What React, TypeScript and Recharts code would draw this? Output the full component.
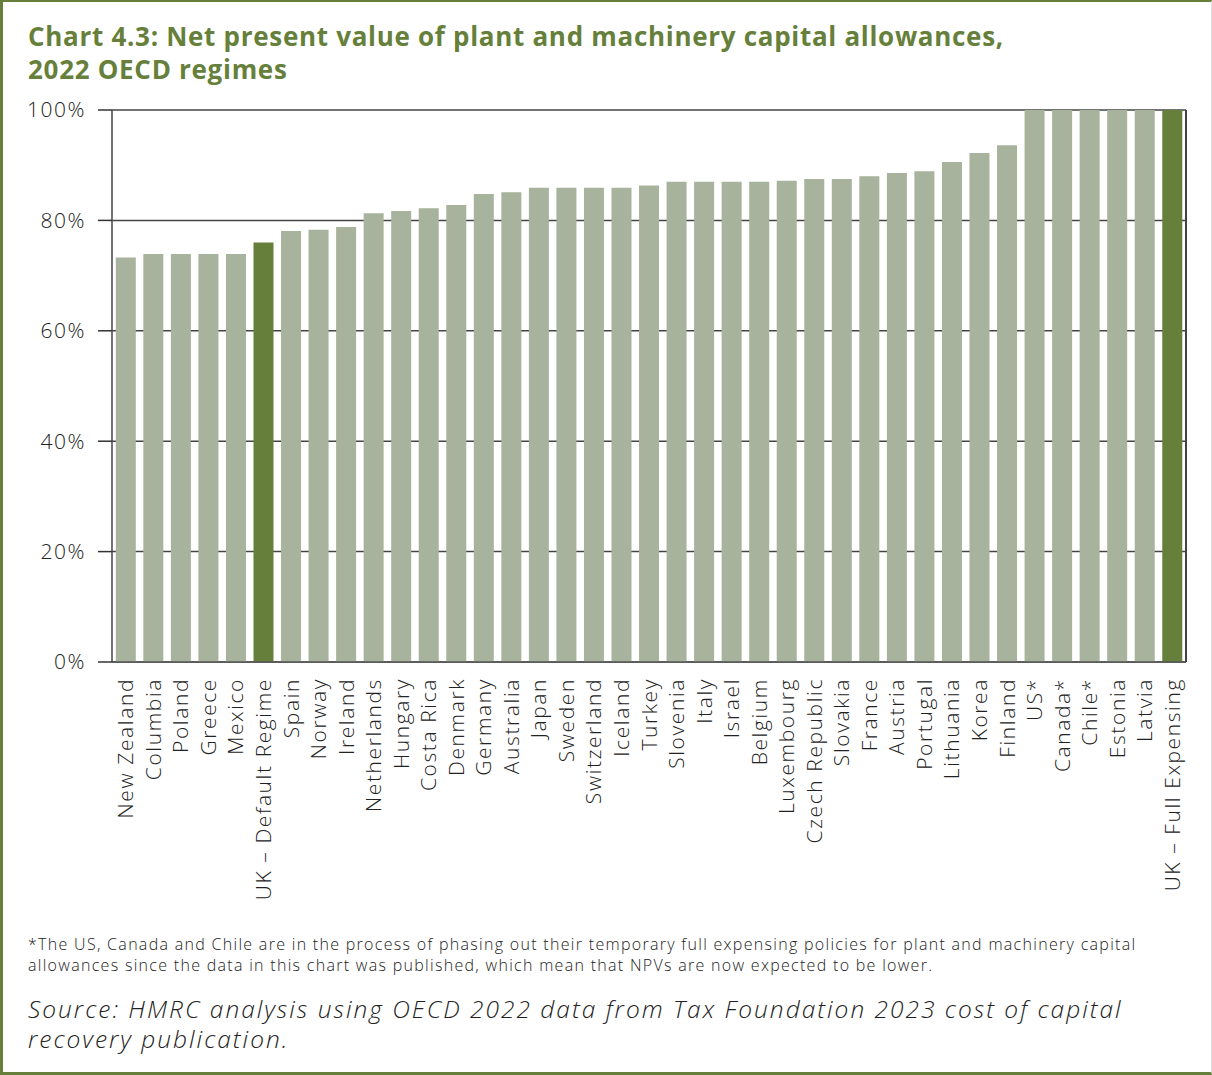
import { Bar, BarChart, CartesianGrid, Cell, XAxis, YAxis } from "recharts";

const countries = [
  "New Zealand", "Columbia", "Poland", "Greece", "Mexico", "UK – Default Regime",
  "Spain", "Norway", "Ireland", "Netherlands", "Hungary", "Costa Rica", "Denmark",
  "Germany", "Australia", "Japan", "Sweden", "Switzerland", "Iceland", "Turkey",
  "Slovenia", "Italy", "Israel", "Belgium", "Luxembourg", "Czech Republic", "Slovakia",
  "France", "Austria", "Portugal", "Lithuania", "Korea", "Finland", "US*", "Canada*",
  "Chile*", "Estonia", "Latvia", "UK – Full Expensing",
];

const npv = [
  73.3, 73.9, 73.9, 73.9, 73.9, 76.0,
  78.1, 78.3, 78.8, 81.3, 81.7, 82.2, 82.8,
  84.8, 85.1, 85.9, 85.9, 85.9, 85.9, 86.3,
  87.0, 87.0, 87.0, 87.0, 87.2, 87.5, 87.5,
  88.0, 88.6, 88.9, 90.6, 92.2, 93.6, 100, 100,
  100, 100, 100, 100,
];

const highlighted = ["UK – Default Regime", "UK – Full Expensing"];
const yTicks = [0, 20, 40, 60, 80, 100];

const data = countries.map((name, i) => ({ name, value: npv[i] }));

const GREEN = "#667f3a";
const LIGHT = "#a7b39d";
const FONT = "'Open Sans', 'Noto Sans', sans-serif";

function CountryTick({ x, y, payload }: any) {
  const ty = y + 8;
  return (
    <text
      x={x}
      y={ty}
      dy="0.36em"
      transform={`rotate(-90, ${x}, ${ty})`}
      textAnchor="end"
      fill="#222"
      fontSize={21}
      fontWeight={300}
      fontFamily={FONT}
      style={{ letterSpacing: "1.6px" }}
    >
      {payload.value}
    </text>
  );
}

export default function App() {
  return (
    <div
      style={{
        position: "absolute",
        left: 0,
        top: 0,
        width: 1212,
        height: 1075,
        boxSizing: "border-box",
        borderTop: `2px solid ${GREEN}`,
        borderLeft: `3px solid ${GREEN}`,
        borderBottom: `3px solid ${GREEN}`,
        borderRight: "1px solid #ddd",
        background: "#fff",
        fontFamily: FONT,
      }}
    >
      <div
        style={{
          position: "absolute",
          left: 25,
          top: 18,
          color: GREEN,
          fontWeight: 700,
          fontSize: 26,
          lineHeight: "33px",
          letterSpacing: "0.7px",
        }}
      >
        Chart 4.3: Net present value of plant and machinery capital allowances,
        <br />
        2022 OECD regimes
      </div>
      <div style={{ position: "absolute", left: -3, top: -2 }}>
        <BarChart
          width={1212}
          height={910}
          data={data}
          barCategoryGap="13.8%"
          margin={{ top: 110, right: 25, bottom: 0, left: 0 }}
        >
          <CartesianGrid vertical={false} stroke="#444" strokeWidth={1.5} />
          <XAxis
            dataKey="name"
            interval={0}
            height={248}
            tickLine={false}
            axisLine={{ stroke: "#555", strokeWidth: 1.5 }}
            tick={<CountryTick />}
          />
          <YAxis
            domain={[0, 100]}
            ticks={yTicks}
            width={112}
            tickSize={14}
            tickMargin={12}
            tickFormatter={(v: number) => `${v}%`}
            tick={{ fill: "#222", fontSize: 21, fontWeight: 300, fontFamily: FONT, style: { letterSpacing: "1.5px" } }}
            tickLine={{ stroke: "#333", strokeWidth: 1.5 }}
            axisLine={{ stroke: "#444", strokeWidth: 1.5 }}
          />
          <YAxis
            yAxisId="frame"
            orientation="right"
            domain={[0, 100]}
            width={1}
            tick={false}
            tickLine={false}
            axisLine={{ stroke: "#444", strokeWidth: 2 }}
          />
          <Bar dataKey="value" isAnimationActive={false}>
            {data.map((d) => (
              <Cell key={d.name} fill={highlighted.includes(d.name) ? GREEN : LIGHT} />
            ))}
          </Bar>
        </BarChart>
      </div>
      <div
        style={{
          position: "absolute",
          left: 25,
          top: 932,
          fontSize: 16,
          lineHeight: "21px",
          fontWeight: 300,
          letterSpacing: "1.3px",
          color: "#222",
        }}
      >
        *The US, Canada and Chile are in the process of phasing out their temporary full expensing policies for plant and machinery capital
        <br />
        allowances since the data in this chart was published, which mean that NPVs are now expected to be lower.
      </div>
      <div
        style={{
          position: "absolute",
          left: 25,
          top: 992,
          fontSize: 24.5,
          lineHeight: "30px",
          fontStyle: "italic",
          fontWeight: 300,
          letterSpacing: "2px",
          color: "#222",
        }}
      >
        Source: HMRC analysis using OECD 2022 data from Tax Foundation 2023 cost of capital
        <br />
        recovery publication.
      </div>
    </div>
  );
}
